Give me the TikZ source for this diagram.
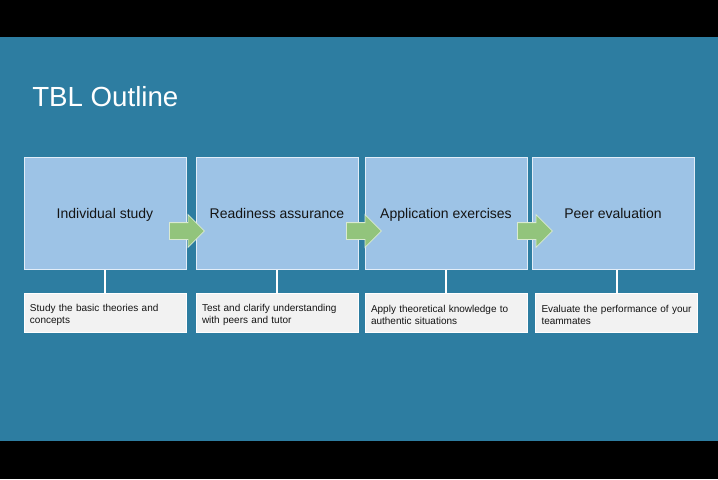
\documentclass[tikz,border=0pt]{standalone}
\usepackage{fontspec}
\setmainfont{Liberation Sans}
\usetikzlibrary{shapes.arrows}
\definecolor{Slide}{HTML}{2D7DA1}
\definecolor{Stage}{HTML}{9DC3E6}
\definecolor{Note}{HTML}{F2F2F2}
\definecolor{Go}{HTML}{92C47C}
\definecolor{Ink}{HTML}{141414}

\begin{document}
\begin{tikzpicture}[x=0.75pt,y=-0.75pt,
    stagebox/.style={draw=white!70!Stage,line width=0.75pt,fill=Stage,minimum width=121.5pt,minimum height=84pt,
      inner sep=0pt,text height=7.5pt,text depth=0pt,font=\fontsize{10.5}{12.6}\selectfont,text=Ink},
    notebox/.style={draw=white,line width=0.75pt,fill=Note,minimum width=121.5pt,minimum height=29.25pt,
      inner xsep=4.5pt,inner ysep=0pt,text width=112.5pt,text height=8.5pt,align=left,
      font=\fontsize{7.5}{9}\selectfont,text=Ink},
    goarrow/.style={single arrow,single arrow head extend=6pt,fill=Go,draw=white!65!Go,line width=0.6pt,
      minimum height=26.25pt,inner xsep=0pt,inner ysep=6pt,anchor=tail},
    link/.style={draw=white,line width=1.5pt}]
  \useasboundingbox (0,0) rectangle (718,479);
  \fill[black] (0,0) rectangle (718,479);
  \fill[Slide] (0,37) rectangle (718,441);
  \node[anchor=base west,inner sep=0pt,text=white,font=\fontsize{20.75}{25}\selectfont] (title) at (32,106) {TBL Outline};
  \foreach \i/\x/\nx/\stage/\note in {
    1/105/105/{Individual study}/{Study the basic theories and\\concepts},
    2/277/277/{Readiness assurance}/{Test and clarify understanding\\with peers and tutor},
    3/446/446/{Application exercises}/{Apply theoretical knowledge to\\authentic situations},
    4/613/616.5/{Peer evaluation}/{\mbox{Evaluate the performance of your}\\teammates}}{
    \node[stagebox] (box\i) at (\x,213) {\stage};
    \node[notebox] (note\i) at (\nx,312.5) {\note};
    \draw[link] (note\i.north) -- (note\i.north |- box\i.south);
  }
  \foreach \i/\ax in {1/169,2/346,3/517}
    \node[goarrow] (arr\i) at (\ax,231) {};
\end{tikzpicture}
\end{document}
